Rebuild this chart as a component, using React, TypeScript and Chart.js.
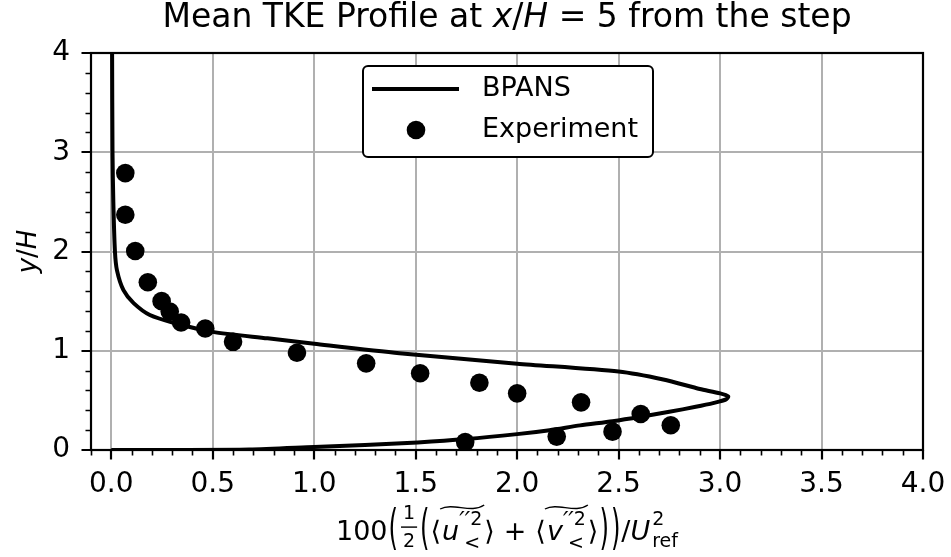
import React, { useEffect, useRef } from "react";
import { Chart, registerables } from "chart.js";

Chart.register(...registerables);

// ---------------- data ----------------
const bpansX = [0.0, 0.3, 0.68, 1.0, 1.25, 1.51, 1.75, 2.0, 2.16, 2.31, 2.47, 2.61, 2.75, 2.88, 2.97, 3.03, 3.04, 3.0, 2.9, 2.72, 2.5, 2.0, 1.42, 1.0, 0.77, 0.5, 0.31, 0.19, 0.11, 0.06, 0.028, 0.018, 0.01, 0.006, 0.004];
const bpansY = [0.0, 0.0, 0.004, 0.03, 0.05, 0.076, 0.11, 0.16, 0.2, 0.248, 0.29, 0.335, 0.385, 0.435, 0.475, 0.51, 0.54, 0.57, 0.615, 0.71, 0.79, 0.87, 0.975, 1.07, 1.125, 1.19, 1.28, 1.36, 1.48, 1.61, 1.81, 2.0, 2.5, 3.0, 4.0];

const expX = [0.069, 0.069, 0.118, 0.18, 0.248, 0.288, 0.344, 0.463, 0.6, 0.915, 1.256, 1.522, 1.814, 2.0, 2.315, 2.609, 2.757, 2.47, 2.195, 1.744];
const expY = [2.79, 2.37, 2.005, 1.69, 1.5, 1.395, 1.285, 1.224, 1.09, 0.98, 0.873, 0.773, 0.678, 0.571, 0.48, 0.363, 0.249, 0.185, 0.135, 0.08];

const xMajorTicks = [0, 0.5, 1, 1.5, 2, 2.5, 3, 3.5, 4];
const xTickLabels = ["0.0", "0.5", "1.0", "1.5", "2.0", "2.5", "3.0", "3.5", "4.0"];
const xMinorTicks = [-0.1, 0.1, 0.2, 0.3, 0.4, 0.6, 0.7, 0.8, 0.9, 1.1, 1.2, 1.3, 1.4, 1.6, 1.7, 1.8, 1.9, 2.1, 2.2, 2.3, 2.4, 2.6, 2.7, 2.8, 2.9, 3.1, 3.2, 3.3, 3.4, 3.6, 3.7, 3.8, 3.9];
const yMajorTicks = [0, 1, 2, 3, 4];
const yTickLabels = ["0", "1", "2", "3", "4"];
const yMinorTicks = [0.2, 0.4, 0.6, 0.8, 1.2, 1.4, 1.6, 1.8, 2.2, 2.4, 2.6, 2.8, 3.2, 3.4, 3.6, 3.8];

const xMin = -0.1;
const xMax = 4.0;
const yMin = 0;
const yMax = 4;

const seriesNames = ["BPANS", "Experiment"];

// ---------------- text helpers ----------------
const FAM = "'DejaVu Sans', sans-serif";
const fnt = (size: number, italic = false) => `${italic ? "italic " : ""}${size}px ${FAM}`;

type Piece = { w: number; draw: (c: CanvasRenderingContext2D, x: number, b: number) => void };

function txt(c: CanvasRenderingContext2D, s: string, size: number, italic = false, padL = 0, padR = 0, dy = 0): Piece {
  c.font = fnt(size, italic);
  const w = c.measureText(s).width;
  return {
    w: w + padL + padR,
    draw: (cc, x, b) => {
      cc.font = fnt(size, italic);
      cc.fillText(s, x + padL, b + dy);
    },
  };
}

function bigParen(c: CanvasRenderingContext2D, s: string, size: number, padL = 1, padR = 1): Piece {
  c.font = fnt(size);
  const w = c.measureText(s).width * 0.9;
  return {
    w: w + padL + padR,
    draw: (cc, x, b) => {
      cc.save();
      cc.translate(x + padL, b - 11);
      cc.scale(0.9, 1.8);
      cc.font = fnt(size);
      cc.fillText(s, 0, 8.4);
      cc.restore();
    },
  };
}

function fracPiece(c: CanvasRenderingContext2D, num: string, den: string, size: number): Piece {
  c.font = fnt(size);
  const wn = c.measureText(num).width;
  const wd = c.measureText(den).width;
  const w = Math.max(wn, wd) + 4;
  return {
    w: w + 4,
    draw: (cc, x, b) => {
      cc.font = fnt(size);
      cc.fillText(num, x + 2 + (w - wn) / 2, b - 21);
      cc.fillText(den, x + 2 + (w - wd) / 2, b + 7);
      cc.fillRect(x + 2, b - 13.6, w, 1.4);
    },
  };
}

function tildeVar(c: CanvasRenderingContext2D, v: string, size: number, small: number): Piece {
  c.font = fnt(size, true);
  const wv = c.measureText(v).width;
  c.font = fnt(24);
  const wp = c.measureText("\u2032\u2032").width;
  c.font = fnt(small);
  const w2 = c.measureText("2").width;
  const wsub = c.measureText("<").width;
  const w = wv + Math.max(wp + w2, wsub + 5) + 2;
  return {
    w: w + 1,
    draw: (cc, x, b) => {
      x += 1;
      cc.font = fnt(size, true);
      cc.fillText(v, x, b);
      cc.font = "italic " + fnt(24);
      cc.fillText("\u2032\u2032", x + wv, b - 11);
      cc.font = fnt(small);
      cc.fillText("2", x + wv + wp, b - 15);
      cc.fillText("<", x + wv + 5, b + 9);
      // wide tilde accent
      const x0 = x - 2;
      const x1 = x + w;
      const yc = b - 33;
      cc.save();
      cc.lineWidth = 1.4;
      cc.beginPath();
      cc.moveTo(x0, yc + 2);
      cc.bezierCurveTo(x0 + (x1 - x0) * 0.3, yc - 5, x0 + (x1 - x0) * 0.7, yc + 7, x1, yc - 2);
      cc.stroke();
      cc.restore();
    },
  };
}

function supSub(c: CanvasRenderingContext2D, sup: string, sub: string, small: number): Piece {
  c.font = fnt(small);
  const w = Math.max(c.measureText(sup).width, c.measureText(sub).width);
  return {
    w: w + 2,
    draw: (cc, x, b) => {
      cc.font = fnt(small);
      cc.fillText(sup, x + 2, b - 15);
      cc.fillText(sub, x + 2, b + 7);
    },
  };
}

function drawPieces(c: CanvasRenderingContext2D, pieces: Piece[], cx: number, b: number) {
  const total = pieces.reduce((s, p) => s + p.w, 0);
  let x = cx - total / 2;
  for (const p of pieces) {
    p.draw(c, x, b);
    x += p.w;
  }
}

// ---------------- decoration plugin ----------------
const decorPlugin = {
  id: "decor",
  afterDraw(chart: any) {
    const c: CanvasRenderingContext2D = chart.ctx;
    const ca = chart.chartArea;
    const xs = chart.scales.x;
    const ys = chart.scales.y;
    c.save();
    c.fillStyle = "#000";
    c.strokeStyle = "#000";
    c.textAlign = "left";
    c.textBaseline = "alphabetic";

    // ticks
    c.lineWidth = 2.2;
    c.beginPath();
    for (const v of xMajorTicks) {
      const px = Math.round(xs.getPixelForValue(v));
      c.moveTo(px, ca.bottom);
      c.lineTo(px, ca.bottom + 9.5);
    }
    for (const v of yMajorTicks) {
      const py = Math.round(ys.getPixelForValue(v));
      c.moveTo(ca.left, py);
      c.lineTo(ca.left - 9.5, py);
    }
    c.stroke();
    c.lineWidth = 1.6;
    c.beginPath();
    for (const v of xMinorTicks) {
      const px = Math.round(xs.getPixelForValue(v)) + 0.5;
      c.moveTo(px, ca.bottom);
      c.lineTo(px, ca.bottom + 5.5);
    }
    for (const v of yMinorTicks) {
      const py = Math.round(ys.getPixelForValue(v)) + 0.5;
      c.moveTo(ca.left, py);
      c.lineTo(ca.left - 5.5, py);
    }
    c.stroke();

    // spines
    c.lineWidth = 2.2;
    c.strokeRect(ca.left, ca.top, ca.right - ca.left, ca.bottom - ca.top);

    const cx = (ca.left + ca.right) / 2;

    // title
    drawPieces(
      c,
      [
        txt(c, "Mean TKE Profile at ", 33),
        txt(c, "x", 33, true),
        txt(c, "/", 33),
        txt(c, "H", 33, true),
        txt(c, " = 5 from the step", 33),
      ],
      cx,
      27
    );

    // x-axis label
    const F = 27;
    const S = 19;
    drawPieces(
      c,
      [
        txt(c, "100", F),
        bigParen(c, "(", F),
        fracPiece(c, "1", "2", S),
        bigParen(c, "(", F),
        txt(c, "\u27E8", F),
        tildeVar(c, "u", F, S),
        txt(c, "\u27E9", F),
        txt(c, "+", F, false, 9, 9),
        txt(c, "\u27E8", F),
        tildeVar(c, "v", F, S),
        txt(c, "\u27E9", F),
        bigParen(c, ")", F),
        bigParen(c, ")", F),
        txt(c, "/", F),
        txt(c, "U", F, true),
        supSub(c, "2", "ref", S),
      ],
      cx,
      540
    );

    // y-axis label
    c.save();
    c.translate(36, (ca.top + ca.bottom) / 2);
    c.rotate(-Math.PI / 2);
    drawPieces(c, [txt(c, "y", 26, true), txt(c, "/", 26), txt(c, "H", 26, true)], 0, 0);
    c.restore();

    // legend
    const lx = ca.left + 272;
    const ly = ca.top + 13;
    const lw = 290;
    const lh = 91;
    c.beginPath();
    c.roundRect(lx, ly, lw, lh, 5);
    c.fillStyle = "#fff";
    c.fill();
    c.lineWidth = 2;
    c.strokeStyle = "#000";
    c.stroke();
    c.fillStyle = "#000";
    c.lineWidth = 4;
    c.beginPath();
    c.moveTo(lx + 9, ly + 23);
    c.lineTo(lx + 96, ly + 23);
    c.stroke();
    c.beginPath();
    c.arc(lx + 53, ly + 64, 9.3, 0, Math.PI * 2);
    c.fill();
    c.font = fnt(27);
    c.textBaseline = "middle";
    c.fillText(seriesNames[0], lx + 119, ly + 23);
    c.fillText(seriesNames[1], lx + 119, ly + 64);

    c.restore();
  },
};

export default function App() {
  const ref = useRef<HTMLCanvasElement>(null);
  useEffect(() => {
    const lineData = bpansX.map((x, i) => ({ x, y: bpansY[i] }));
    const expData = expX.map((x, i) => ({ x, y: expY[i] }));
    const tickFont = { family: FAM, size: 28 };
    const chart = new Chart(ref.current as HTMLCanvasElement, {
      type: "scatter",
      data: {
        datasets: [
          {
            label: seriesNames[0],
            data: lineData,
            showLine: true,
            borderColor: "#000",
            backgroundColor: "#000",
            borderWidth: 4,
            pointRadius: 0,
            pointHoverRadius: 0,
            tension: 0.25,
            clip: 0,
          } as any,
          {
            label: seriesNames[1],
            data: expData,
            showLine: false,
            backgroundColor: "#000",
            borderColor: "#000",
            borderWidth: 0,
            pointRadius: 9.3,
            pointHoverRadius: 9.3,
          },
        ],
      },
      options: {
        animation: false,
        responsive: false,
        devicePixelRatio: 1,
        layout: { padding: { top: 53, right: 28, left: 0, bottom: 0 } },
        plugins: {
          legend: { display: false },
          title: { display: false },
          tooltip: { enabled: false },
        },
        events: [],
        scales: {
          x: {
            type: "linear",
            min: xMin,
            max: xMax,
            grid: { color: "#b0b0b0", lineWidth: 2, drawTicks: false },
            border: { display: false },
            afterBuildTicks: (scale: any) => {
              scale.ticks = xMajorTicks.map((v) => ({ value: v }));
            },
            afterFit: (scale: any) => {
              scale.height = 107;
              scale.paddingLeft = 0;
              scale.paddingRight = 0;
            },
            ticks: {
              autoSkip: false,
              maxRotation: 0,
              minRotation: 0,
              padding: 18,
              color: "#000",
              font: tickFont,
              callback: (_v: any, i: number) => xTickLabels[i],
            },
          },
          y: {
            type: "linear",
            min: yMin,
            max: yMax,
            grid: { color: "#b0b0b0", lineWidth: 2, drawTicks: false },
            border: { display: false },
            afterBuildTicks: (scale: any) => {
              scale.ticks = yMajorTicks.map((v) => ({ value: v }));
            },
            afterFit: (scale: any) => {
              scale.width = 91;
              scale.paddingTop = 0;
              scale.paddingBottom = 0;
            },
            ticks: {
              autoSkip: false,
              padding: 21,
              color: "#000",
              font: tickFont,
              callback: (_v: any, i: number) => yTickLabels[i],
            },
          },
        },
      },
      plugins: [decorPlugin],
    });
    return () => chart.destroy();
  }, []);
  return (
    <div style={{ position: "absolute", left: 0, top: 0, width: 951, height: 557, background: "#fff" }}>
      <canvas ref={ref} width={951} height={557} style={{ display: "block" }} />
    </div>
  );
}
